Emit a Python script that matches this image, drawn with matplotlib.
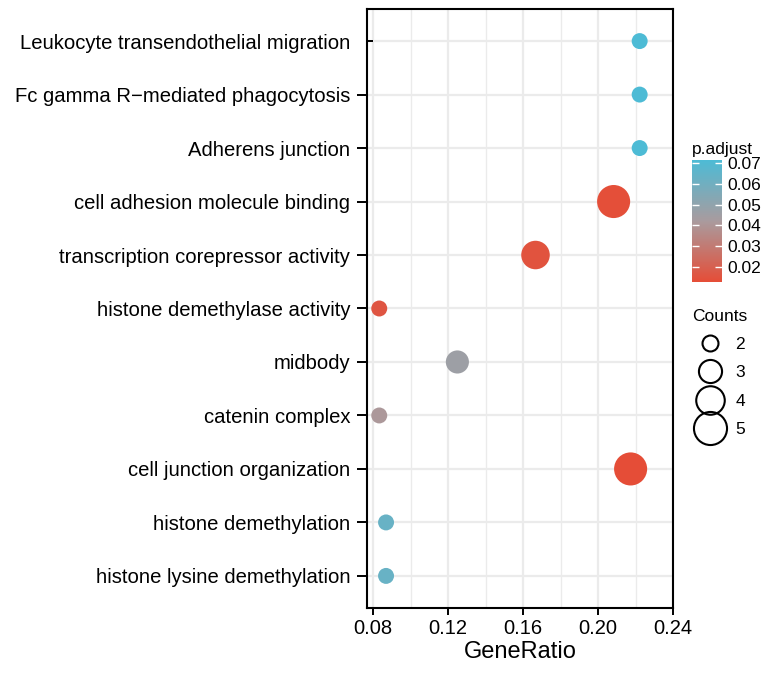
import matplotlib
matplotlib.use('Agg')
import matplotlib.pyplot as plt
from matplotlib.colors import LinearSegmentedColormap
from matplotlib.lines import Line2D
from matplotlib import markers
import numpy as np

plt.rcParams['font.family'] = ['Liberation Sans', 'DejaVu Sans']

# Datos (de abajo hacia arriba)
terms = ['histone lysine demethylation', 'histone demethylation',
         'cell junction organization', 'catenin complex', 'midbody',
         'histone demethylase activity', 'transcription corepressor activity',
         'cell adhesion molecule binding', 'Adherens junction',
         'Fc gamma R\u2212mediated phagocytosis',
         'Leukocyte transendothelial migration']
gene_ratio = [2/23, 2/23, 5/23, 2/24, 3/24, 2/24, 4/24, 5/24, 2/9, 2/9, 2/9]
counts = [2, 2, 5, 2, 3, 2, 4, 5, 2, 2, 2]
p_adjust = [0.0630, 0.0630, 0.0128, 0.0410, 0.0460, 0.0160, 0.0150, 0.0135,
            0.0715, 0.0715, 0.0715]
legend_counts = [2, 3, 4, 5]
x_ticks = [0.08, 0.12, 0.16, 0.20, 0.24]
cb_ticks = [0.02, 0.03, 0.04, 0.05, 0.06, 0.07]


def size_of(c):
    return 145 * np.asarray(c) - 158


cmap = LinearSegmentedColormap.from_list('padj', ['#E54D37', '#A99B9E', '#4DBBD5'])
vmin, vmax = min(p_adjust), max(p_adjust)

fig = plt.figure(figsize=(7.66, 6.74), dpi=100)
ax = fig.add_axes([367/766, 1-608/674, 306/766, 599/674])

y = np.arange(len(terms))
sc = ax.scatter(gene_ratio, y, s=size_of(counts), c=p_adjust, cmap=cmap,
                vmin=vmin, vmax=vmax, linewidths=0, zorder=3)

ax.set_xlim(0.0768, 0.24)
ax.set_ylim(-0.6, len(terms) - 0.4)
ax.set_yticks(y)
ax.set_yticklabels(terms, fontsize=14.6)
ax.set_xticks(x_ticks)
ax.set_xticklabels([f'{v:.2f}' for v in x_ticks], fontsize=14.5)
ax.set_xticks(np.arange(0.10, 0.24, 0.04), minor=True)
ax.set_xlabel('GeneRatio', fontsize=17, labelpad=2)

ax.grid(True, which='major', color='#EBEBEB', lw=1.6, zorder=0)
ax.grid(True, which='minor', axis='x', color='#EBEBEB', lw=1.0, zorder=0)
ax.set_axisbelow(True)
ax.tick_params(axis='y', length=7, width=1.4, pad=5)
ax.tick_params(axis='x', which='major', length=5, width=1.4, pad=3)
ax.tick_params(axis='x', which='minor', length=0)
for s in ax.spines.values():
    s.set_linewidth(1.5)

# la marca de la fila superior apunta hacia dentro, como en el original
top_tick = ax.yaxis.get_major_ticks()[-1]
top_tick.tick1line.set_marker(markers.TICKRIGHT)
top_tick.tick1line.set_markersize(4)

# Barra de color
cax = fig.add_axes([692/766, 1-282/674, 30/766, 122/674])
cb = fig.colorbar(sc, cax=cax)
cb.outline.set_visible(False)
cb.set_ticks(cb_ticks)
cb.ax.tick_params(direction='in', color='white', length=5, width=1,
                  labelsize=12.5, pad=4, left=True, right=True)
cb.ax.set_yticklabels([f'{v:.2f}' for v in cb_ticks])
fig.text(692/766, 1-154/674, 'p.adjust', fontsize=12.5, ha='left', va='baseline')

# Leyenda de tamaños
handles = [Line2D([], [], ls='', marker='o', markersize=np.sqrt(size_of(c)),
                  markerfacecolor='none', markeredgecolor='black', markeredgewidth=1.5)
           for c in legend_counts]
leg = fig.legend(handles, [str(c) for c in legend_counts], title='Counts',
                 loc='upper left', bbox_to_anchor=(680/766, 1-297/674),
                 frameon=False, fontsize=12.5, title_fontsize=12.5,
                 labelspacing=0.75, handletextpad=0.5, borderpad=0.2)
leg._legend_box.align = 'left'

fig.savefig('out.png', dpi=100)
